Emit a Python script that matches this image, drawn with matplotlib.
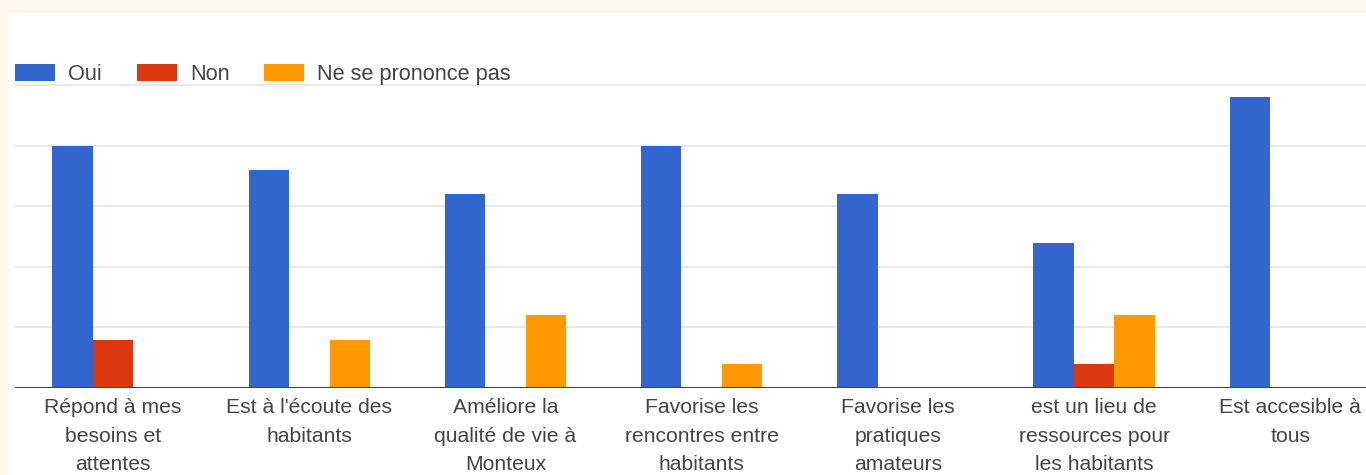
import matplotlib
matplotlib.use("Agg")
import matplotlib.pyplot as plt
from matplotlib.patches import Rectangle
import numpy as np

plt.rcParams['font.family'] = ['Liberation Sans', 'DejaVu Sans']

categories = [
    "Répond à mes\nbesoins et\nattentes",
    "Est à l'écoute des\nhabitants",
    "Améliore la\nqualité de vie à\nMonteux",
    "Favorise les\nrencontres entre\nhabitants",
    "Favorise les\npratiques\namateurs",
    "est un lieu de\nressources pour\nles habitants",
    "Est accesible à\ntous",
]
series_names = ["Oui", "Non", "Ne se prononce pas"]
oui = [20, 18, 16, 20, 16, 12, 24]
non = [4, 0, 0, 0, 0, 2, 0]
nsp = [0, 4, 6, 2, 0, 6, 0]
colors = ["#3366cc", "#dc3912", "#ff9900"]

W, H = 1366, 475
fig = plt.figure(figsize=(W / 100, H / 100), dpi=100)
fig.patch.set_facecolor("#fdf7ea")
fig.patches.append(Rectangle((8 / W, 0), 1 - 8 / W, (H - 13) / H,
                             transform=fig.transFigure, facecolor="white",
                             edgecolor="none", zorder=-5))

group_px = 196.2
left_px = 15
base_px = 388
unit_px = 60.6 / 5
ytop = 25.3
ax_top_px = base_px - ytop * unit_px
ax = fig.add_axes([left_px / W, (H - base_px) / H, (W - left_px) / W,
                   (base_px - ax_top_px) / H])
ax.set_facecolor("none")
ax.set_zorder(2)

x = np.arange(len(categories))
bw = 0.618 / 3
handles = []
for i, (vals, c, name) in enumerate(zip([oui, non, nsp], colors, series_names)):
    h = ax.bar(x + (i - 1) * bw, vals, width=bw, color=c, label=name, zorder=3,
               linewidth=0)
    handles.append(h)

ax.set_xlim(-0.5, -0.5 + (W - left_px) / group_px)
ax.set_ylim(0, ytop)
ax.set_yticks([5, 10, 15, 20, 25])
ax.yaxis.grid(True, color="#e4e4e4", linewidth=1.2, zorder=1)
ax.set_axisbelow(True)
ax.tick_params(axis="y", left=False, labelleft=False)
ax.axhline(0, color="#444444", linewidth=1.5, zorder=4)
for s in ax.spines.values():
    s.set_visible(False)

ax.set_xticks(x)
ax.set_xticklabels(categories, fontsize=15.2, color="#444444", linespacing=1.62)
ax.tick_params(axis="x", bottom=False, pad=4)

leg = fig.legend(handles=handles, labels=series_names, ncol=3,
                 loc="upper left", bbox_to_anchor=(6 / W, 1 - 55 / H),
                 frameon=False, fontsize=15.7, handlelength=1.84,
                 handleheight=0.85, handletextpad=0.6, columnspacing=1.6,
                 borderaxespad=0, borderpad=0.4)
leg.set_zorder(3)
for t in leg.get_texts():
    t.set_color("#444444")

fig.savefig("out.png", dpi=100, facecolor=fig.get_facecolor())
